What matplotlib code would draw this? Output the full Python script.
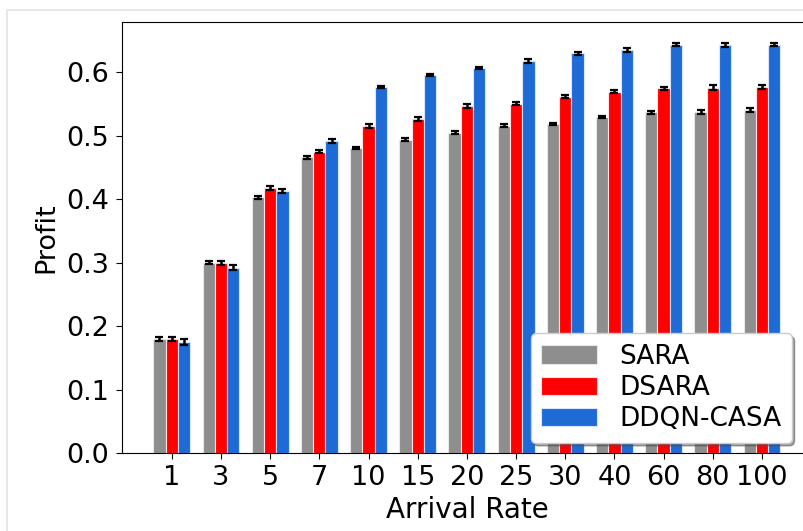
import numpy as np
import matplotlib
matplotlib.use('Agg')
import matplotlib.pyplot as plt
import matplotlib.patches as patches

# ─── data ─────────────────────────────────────────────────────
rates = ['1', '3', '5', '7', '10', '15', '20', '25', '30', '40', '60', '80', '100']

sara  = [0.180, 0.300, 0.403, 0.466, 0.481, 0.494, 0.505, 0.516, 0.519, 0.530, 0.537, 0.538, 0.541]
dsara = [0.180, 0.300, 0.418, 0.475, 0.516, 0.527, 0.547, 0.551, 0.562, 0.570, 0.575, 0.576, 0.577]
ddqn  = [0.175, 0.292, 0.413, 0.492, 0.577, 0.596, 0.607, 0.618, 0.630, 0.636, 0.644, 0.643, 0.644]

sara_err  = [0.003, 0.002, 0.002, 0.002, 0.002, 0.002, 0.002, 0.002, 0.002, 0.002, 0.002, 0.003, 0.003]
dsara_err = [0.003, 0.003, 0.003, 0.002, 0.003, 0.003, 0.003, 0.003, 0.003, 0.003, 0.002, 0.004, 0.003]
ddqn_err  = [0.004, 0.004, 0.003, 0.003, 0.002, 0.002, 0.002, 0.003, 0.003, 0.003, 0.002, 0.003, 0.002]

# ─── figure ───────────────────────────────────────────────────
plt.rcParams['font.family'] = ['DejaVu Sans']
fig = plt.figure(figsize=(8.04, 5.31), dpi=100)
ax = fig.add_axes([0.1517, 0.147, 0.858, 0.812])

# faint outer frame
fig.add_artist(patches.Rectangle((7 / 804, -0.01), 1.0, (531 - 10) / 531 + 0.01,
                                 transform=fig.transFigure, fill=False,
                                 edgecolor='#e4e4e4', lw=1.2))

x = np.arange(len(rates))
w = 0.25
ekw = dict(elinewidth=1.8, capthick=1.6, ecolor='black')

ax.bar(x - w, sara, w, yerr=sara_err, capsize=3, color='#8e8e8e',
       edgecolor='#e8e8e8', linewidth=0.8, label='SARA', error_kw=ekw)
ax.bar(x, dsara, w, yerr=dsara_err, capsize=3, color='#ff0000',
       edgecolor='#ffe0e0', linewidth=0.8, label='DSARA', error_kw=ekw)
ax.bar(x + w, ddqn, w, yerr=ddqn_err, capsize=3, color='#1e6bd6',
       edgecolor='#d8e6ff', linewidth=0.8, label='DDQN-CASA', error_kw=ekw)

ax.set_xticks(x)
ax.set_xticklabels(rates)
ax.set_ylim(0, 0.68)
ax.set_yticks([0.0, 0.1, 0.2, 0.3, 0.4, 0.5, 0.6])
ax.tick_params(labelsize=19.5, length=4.5, pad=4.5)
ax.set_xlabel('Arrival Rate', fontsize=20, labelpad=3)
ax.set_ylabel('Profit', fontsize=19.5, labelpad=5)

ax.legend(loc='lower right', bbox_to_anchor=(0.971, 0.023), fontsize=19,
          shadow=True, fancybox=True, framealpha=1.0, handlelength=2.1,
          handletextpad=0.85, labelspacing=0.2, borderaxespad=0.0)

fig.savefig('out.png', dpi=100)
